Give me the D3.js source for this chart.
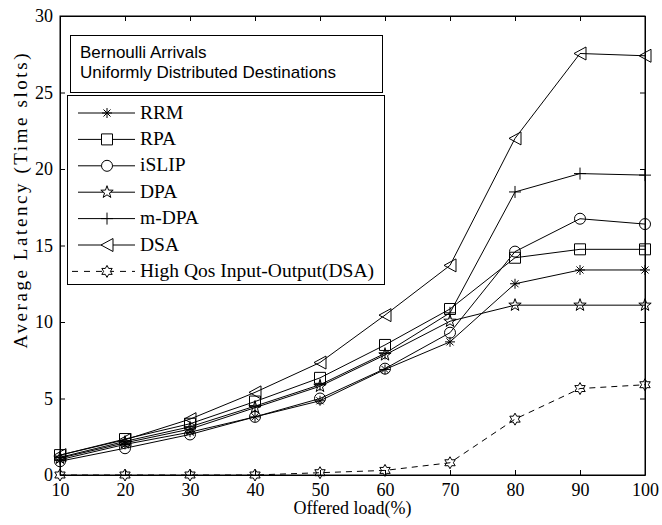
<!DOCTYPE html>
<html><head><meta charset="utf-8">
<script src="https://cdn.jsdelivr.net/npm/d3@7"></script>
<style>body{margin:0;background:#fff}svg{display:block}</style>
</head><body><svg id="c" width="662" height="525"></svg>
<script>
const loads = [10,20,30,40,50,60,70,80,90,100];
const xTicks = [10,20,30,40,50,60,70,80,90,100];
const yTicks = [0,5,10,15,20,25,30];
const seriesNames = ["RRM","RPA","iSLIP","DPA","m-DPA","DSA","High Qos Input-Output(DSA)"];
const rrm   = [1.0,2.0,2.8,3.8,4.85,6.9,8.7,12.5,13.4,13.4];
const rpa   = [1.3,2.35,3.35,4.8,6.35,8.5,10.85,14.2,14.75,14.75];
const islip = [0.9,1.75,2.65,3.8,5.0,6.95,9.3,14.6,16.75,16.4];
const dpa   = [1.1,2.1,3.0,4.4,5.8,7.85,10.05,11.1,11.1,11.1];
const mdpa  = [1.15,2.2,3.15,4.5,5.9,7.95,10.6,18.5,19.7,19.6];
const dsa   = [1.3,2.3,3.65,5.4,7.35,10.45,13.7,22.0,27.55,27.4];
const hq    = [0,0,0,0,0.15,0.3,0.8,3.65,5.65,5.9];
const noteLines = ["Bernoulli Arrivals","Uniformly Distributed Destinations"];

const seriesValues = [rrm,rpa,islip,dpa,mdpa,dsa,hq];
const markerTypes = ["asterisk","square","circle","pentagram","plus","triangle","hexagram"];

const svg = d3.select("#c");
const L=60, R=645, T=16, B=475;
const x = d3.scaleLinear().domain([10,100]).range([L,R]);
const y = d3.scaleLinear().domain([0,30]).range([B,T]);
const serif = "'Liberation Serif','Times New Roman',serif";
const sans = "'Liberation Sans',Arial,sans-serif";

function starPath(n, ro, ri, rot){
  const pts=[];
  for(let i=0;i<2*n;i++){
    const a = rot + i*Math.PI/n;
    const r = i%2===0?ro:ri;
    pts.push([r*Math.cos(a), r*Math.sin(a)]);
  }
  return "M"+pts.map(p=>p[0].toFixed(2)+","+p[1].toFixed(2)).join("L")+"Z";
}
function markerPath(t){
  switch(t){
    case "asterisk": { const r=5; let p=""; for(let i=0;i<4;i++){const a=i*Math.PI/4; p+=`M${(-r*Math.cos(a)).toFixed(2)},${(-r*Math.sin(a)).toFixed(2)}L${(r*Math.cos(a)).toFixed(2)},${(r*Math.sin(a)).toFixed(2)}`;} return p; }
    case "square": return "M-5.5,-5.5H5.5V5.5H-5.5Z";
    case "circle": return "M5.5,0A5.5,5.5 0 1,1 -5.5,0A5.5,5.5 0 1,1 5.5,0Z";
    case "pentagram": return starPath(5,6.5,2.6,-Math.PI/2);
    case "plus": return "M-6,0H6M0,-6V6";
    case "triangle": return "M-6,0L6,-6.5L6,6.5Z";
    case "hexagram": return starPath(6,6,3.4,-Math.PI/2);
  }
}

const g = svg.append("g");
g.append("rect").attr("x",L).attr("y",T).attr("width",R-L).attr("height",B-T)
 .attr("fill","none").attr("stroke","#000").attr("stroke-width",1);

const xAxisB = d3.axisBottom(x).tickValues(xTicks).tickSizeInner(-5).tickSizeOuter(0).tickPadding(8).tickFormat(d3.format("d"));
const xAxisT = d3.axisTop(x).tickValues(xTicks).tickSizeInner(-5).tickSizeOuter(0).tickFormat("");
const yAxisL = d3.axisLeft(y).tickValues(yTicks).tickSizeInner(-5).tickSizeOuter(0).tickPadding(7).tickFormat(d3.format("d"));
const yAxisR = d3.axisRight(y).tickValues(yTicks).tickSizeInner(-5).tickSizeOuter(0).tickFormat("");

function styleAxis(sel){
  sel.select(".domain").attr("stroke","#000");
  sel.selectAll(".tick line").attr("stroke","#000");
  sel.selectAll(".tick text").attr("fill","#000").style("font-family",serif).style("font-size","18px");
}
g.append("g").attr("transform",`translate(0,${B})`).call(xAxisB).call(styleAxis);
g.append("g").attr("transform",`translate(0,${T})`).call(xAxisT).call(styleAxis);
g.append("g").attr("transform",`translate(${L},0)`).call(yAxisL).call(styleAxis);
g.append("g").attr("transform",`translate(${R},0)`).call(yAxisR).call(styleAxis);

// lines
const line = d3.line().x((d,i)=>x(loads[i])).y(d=>y(d));
seriesValues.forEach((vals,k)=>{
  svg.append("path").datum(vals).attr("d",line).attr("fill","none")
    .attr("stroke","#000").attr("stroke-width",1)
    .attr("stroke-dasharray", k===6 ? "6,5" : null);
});
seriesValues.forEach((vals,k)=>{
  svg.append("g").selectAll("path").data(vals).join("path")
    .attr("transform",(d,i)=>`translate(${x(loads[i])},${y(d)})`)
    .attr("d",markerPath(markerTypes[k]))
    .attr("fill","none").attr("stroke","#000").attr("stroke-width",1);
});

// titles
svg.append("text").attr("x",(L+R)/2).attr("y",514).attr("text-anchor","middle")
  .style("font-family",serif).style("font-size","18px").text("Offered load(%)");
svg.append("text").attr("transform","translate(27,201) rotate(-90)").attr("text-anchor","middle")
  .attr("textLength",295).attr("lengthAdjust","spacing")
  .style("font-family",serif).style("font-size","19px").text("Average Latency (Time slots)");

// note box
svg.append("rect").attr("x",70.5).attr("y",35.5).attr("width",312).attr("height",57)
  .attr("fill","#fff").attr("stroke","#000").attr("stroke-width",1);
noteLines.forEach((t,i)=>{
  svg.append("text").attr("x",80).attr("y",58+i*20)
    .style("font-family",sans).style("font-size","17px").text(t);
});

// legend
svg.append("rect").attr("x",67.5).attr("y",95.5).attr("width",317).attr("height",189)
  .attr("fill","#fff").attr("stroke","#000").attr("stroke-width",1);
seriesNames.forEach((n,k)=>{
  const cy = 113 + k*26.4;
  svg.append("line").attr("x1",k===6?72:78).attr("x2",135).attr("y1",cy).attr("y2",cy)
    .attr("stroke","#000").attr("stroke-width",1).attr("stroke-dasharray", k===6?"6,6":null);
  svg.append("path").attr("transform",`translate(107,${cy})`).attr("d",markerPath(markerTypes[k]))
    .attr("fill", "#fff").attr("stroke","#000").attr("stroke-width",1);
  svg.append("text").attr("x",140).attr("y",cy+5.5)
    .style("font-family",serif).style("font-size","19.5px").text(n);
});
</script></body></html>
